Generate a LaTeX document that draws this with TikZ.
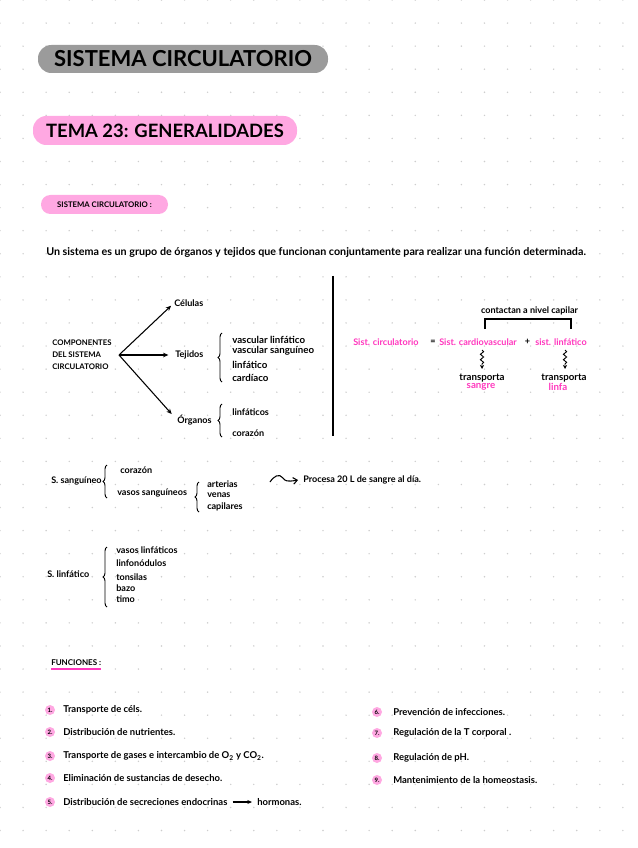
\documentclass[tikz,border=0pt]{standalone}
\usepackage{fontspec}
\setmainfont{Lato}
\usetikzlibrary{arrows.meta,decorations.pathreplacing,decorations.pathmorphing,calc}
\definecolor{pillpink}{RGB}{255,168,226}
\definecolor{magtxt}{RGB}{255,55,190}
\definecolor{pillgray}{RGB}{155,155,155}
\definecolor{dotgray}{RGB}{205,205,205}
\begin{document}
\begin{tikzpicture}[x=0.75pt,y=-0.75pt,
  hw/.style={font=\fontsize{6.8pt}{7.5pt}\selectfont\bfseries, inner sep=0pt, anchor=west},
  hwc/.style={font=\fontsize{6.8pt}{7.5pt}\selectfont\bfseries, inner sep=0pt, anchor=center},
  big/.style={font=\fontsize{7.3pt}{8pt}\selectfont\bfseries},
  item/.style={font=\fontsize{7.1pt}{8.4pt}\selectfont\bfseries, inner sep=0pt, anchor=west},
  numdot/.style={circle, fill=pillpink, minimum size=7.5pt, inner sep=0pt, font=\fontsize{4.5pt}{5pt}\selectfont\bfseries},
  arr/.style={line width=0.8pt, -{Stealth[length=4pt,width=3.5pt]}},
  brace/.style={decorate, decoration={brace, amplitude=3pt}, line width=0.7pt},
  squig/.style={decorate, decoration={snake, amplitude=1.2pt, segment length=4pt, post length=3pt}, line width=0.7pt, -{Stealth[length=3pt,width=3pt]}},
  pill/.style={rounded corners=10pt, inner sep=0pt, text=black}
]
\useasboundingbox (0,0) rectangle (637,848);
\fill[white] (0,0) rectangle (637,848);
% dot grid
\foreach \i in {0,...,27} {
  \foreach \j in {0,...,36} {
    \fill[dotgray] (\i*23.07,\j*23.07) circle (0.8);
  }
}
% headers
\node (title) [pill, fill=pillgray, minimum width=217.5pt, minimum height=21pt,
  font=\fontsize{16.5pt}{18pt}\selectfont\bfseries] at (183,59) {SISTEMA CIRCULATORIO};
\node (tema) [pill, fill=pillpink, minimum width=198pt, minimum height=21.75pt,
  font=\fontsize{13.8pt}{15pt}\selectfont\bfseries] at (165,130.5) {TEMA 23: GENERALIDADES};
\node (sec) [pill, rounded corners=7pt, fill=pillpink, minimum width=95.25pt, minimum height=14.25pt,
  font=\fontsize{5.8pt}{6pt}\selectfont\bfseries] at (104.5,204.5) {SISTEMA CIRCULATORIO :};
\node (def) [hw, font=\fontsize{8.05pt}{9pt}\selectfont\bfseries] at (46,252)
  {Un sistema es un grupo de órganos y tejidos que funcionan conjuntamente para realizar una función determinada.};

% left diagram
\node (comp) [hw, align=left, font=\fontsize{5.8pt}{9pt}\selectfont\bfseries] at (52,355)
  {COMPONENTES\\DEL SISTEMA\\CIRCULATORIO};
\coordinate (o) at (119,355);
\node (cel) [hw] at (174,303) {Células};
\node (tej) [hw] at (175,355) {Tejidos};
\node (org) [hw] at (177,420) {Órganos};
\draw[arr, shorten >=3pt] (o) -- (cel.west);
\draw[arr, shorten >=5pt] (o) -- (tej.west);
\draw[arr, shorten >=6pt] (o) -- (org.west);
\coordinate (b1a) at (222,382); \coordinate (b1b) at (222,333);
\draw[brace] (b1a) -- (b1b);
\node (t1) [hw, big] at (232,340) {vascular linfático};
\node (t2) [hw, big] at (232,351) {vascular sanguíneo};
\node (t3) [hw, big] at (232,365) {linfático};
\node (t4) [hw, big] at (232,378) {cardíaco};
\coordinate (b2a) at (222,437); \coordinate (b2b) at (222,404);
\draw[brace] (b2a) -- (b2b);
\node (o1) [hw] at (232,412) {linfáticos};
\node (o2) [hw] at (232,433) {corazón};
% separator
\coordinate (s1) at (333,276); \coordinate (s2) at (333,436);
\draw[line width=0.9pt] (s1) -- (s2);

% right diagram
\node (circ) [hw, text=magtxt] at (353,342) {Sist. circulatorio};
\node (eq) [hwc] at (433,342) {=};
\node (card) [hw, text=magtxt] at (439,342) {Sist. cardiovascular};
\node (plus) [hwc] at (527.5,342) {+};
\node (lin) [hw, text=magtxt] at (535,342) {sist. linfático};
\node (cont) [hwc] at (529.5,311) {contactan a nivel capilar};
\coordinate (k1) at (485,329); \coordinate (k2) at (485,319);
\coordinate (k3) at (571,319); \coordinate (k4) at (571,329);
\draw[line width=0.8pt] (k1) -- (k2) -- (k3) -- (k4);
\coordinate (q1) at (482,350); \coordinate (q2) at (482,369);
\coordinate (q3) at (565,350); \coordinate (q4) at (565,369);
\draw[squig] (q1) -- (q2);
\draw[squig] (q3) -- (q4);
\node (tr1) [hwc, big] at (482,378) {transporta};
\node (sa) [hwc, big, text=magtxt] at (481,387) {sangre};
\node (tr2) [hwc, big] at (564,378) {transporta};
\node (li) [hwc, big, text=magtxt] at (558,387) {linfa};

% S. sanguineo
\node (ss) [hw] at (51,481) {S. sanguíneo};
\coordinate (b3a) at (107,498); \coordinate (b3b) at (107,465);
\draw[brace] (b3a) -- (b3b);
\node (cor) [hw] at (120,470) {corazón};
\node (vs) [hw] at (117,493) {vasos sanguíneos};
\coordinate (b4a) at (199,512); \coordinate (b4b) at (199,482);
\draw[brace] (b4a) -- (b4b);
\node (art) [hw] at (207,484) {arterias};
\node (ven) [hw] at (207,495) {venas};
\node (cap) [hw] at (207,507) {capilares};
\node (proc) [hw] at (303,480) {Procesa 20 L de sangre al día.};
\coordinate (w1) at (270,482);
\draw[line width=0.8pt, -{Straight Barb[length=3pt,width=5pt]}] (w1) .. controls (274,476) and (279,473) .. (283,478)
  .. controls (285,481) and (287,482) .. ($(proc.west)+(-5,0)$);

% S. linfatico
\node (sl) [hw] at (47,574) {S. linfático};
\coordinate (b5a) at (107,607); \coordinate (b5b) at (107,547);
\draw[brace] (b5a) -- (b5b);
\node (l1) [hw] at (116,550) {vasos linfáticos};
\node (l2) [hw] at (116,563) {linfonódulos};
\node (l3) [hw] at (116,577) {tonsilas};
\node (l4) [hw] at (116,588) {bazo};
\node (l5) [hw] at (116,599) {timo};

% Funciones
\node (fun) [hw, font=\fontsize{6pt}{7pt}\selectfont\bfseries] at (51,663) {FUNCIONES :};
\coordinate (u1) at (51,669); \coordinate (u2) at (101,669);
\draw[magtxt, line width=1.1pt] (u1) -- (u2);
\foreach \n/\y/\t in {1/710/{Transporte de céls.}, 2/732/{Distribución de nutrientes.},
  3/756/{Transporte de gases e intercambio de O\textsubscript{2} y CO\textsubscript{2}.},
  4/778/{Eliminación de sustancias de desecho.}} {
  \node (n\n) [numdot] at (50,\y) {\n.};
  \node (f\n) [item] at (63,\y) {\t};
}
\node (n5) [numdot] at (50,802) {5.};
\node (f5) [item] at (63,802) {Distribución de secreciones endocrinas};
\node (h5) [item] at (257,802) {hormonas.};
\draw[line width=0.8pt, -{Stealth[length=3.5pt,width=3pt]}] (f5.east) ++(5,0) coordinate (a5) (a5) -- ($(h5.west)+(-5,0)$);
\foreach \n/\y/\t in {6/712/{Prevención de infecciones.}, 7/733/{Regulación de la T corporal .},
  8/758/{Regulación de pH.}, 9/780/{Mantenimiento de la homeostasis.}} {
  \node (n\n) [numdot] at (377,\y) {\n.};
  \node (f\n) [item] at (393,\y) {\t};
}
\end{tikzpicture}
\end{document}
